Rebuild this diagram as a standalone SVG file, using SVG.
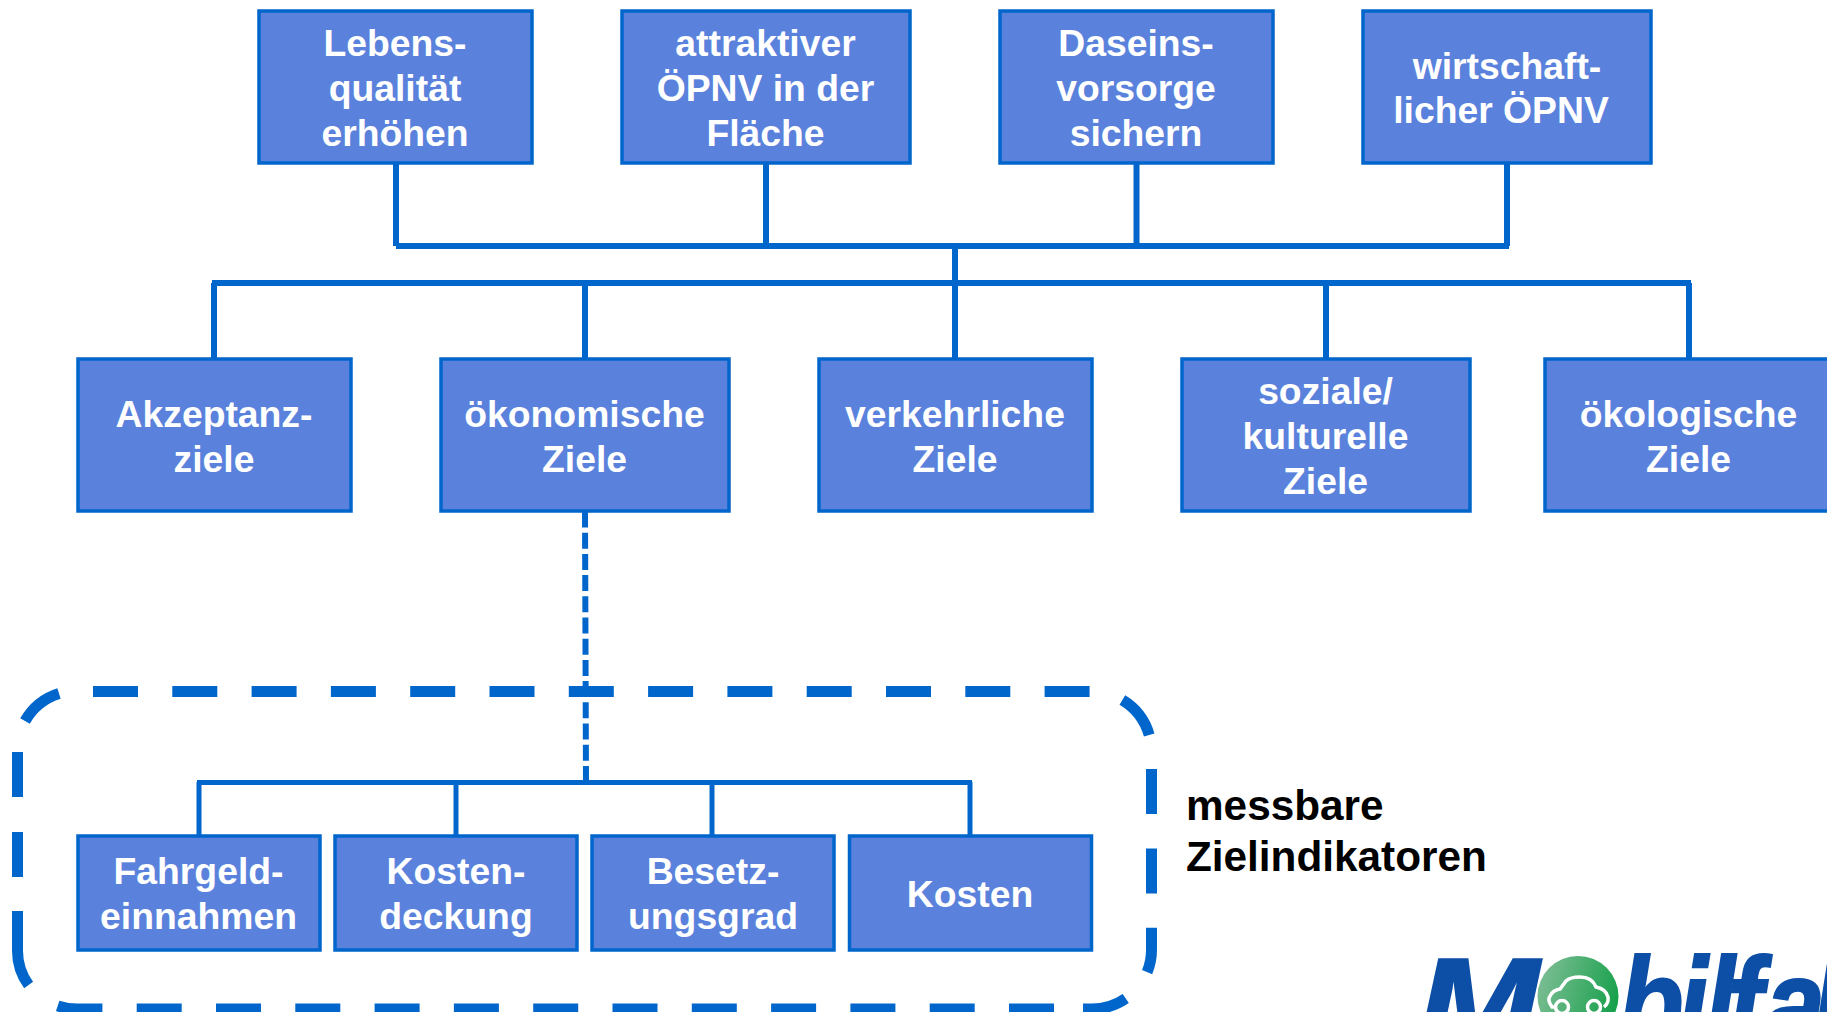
<svg xmlns="http://www.w3.org/2000/svg" width="1827" height="1012" viewBox="0 0 1827 1012">
<defs>
<style>
.box{fill:#5a82dc;stroke:#0066cc;stroke-width:3.5}
.t{font-family:"Liberation Sans",Arial,sans-serif;font-weight:700;font-size:37.3px;fill:#fff;text-anchor:middle}
.l{font-family:"Liberation Sans",Arial,sans-serif;font-weight:700;font-size:42.3px;fill:#000}
.c{fill:none;stroke:#0066cc;stroke-width:6}
.c2{fill:none;stroke:#0066cc;stroke-width:5}
.d{fill:none;stroke:#0066cc;stroke-width:11}
.logo{font-family:"Liberation Sans",Arial,sans-serif;font-weight:700;font-style:italic;font-size:132px;fill:#0d4ea6;stroke:#0d4ea6;stroke-width:2}
</style>
<linearGradient id="g" x1="0" y1="0.3" x2="1" y2="0.6"><stop offset="0" stop-color="#7dbd94"/><stop offset="1" stop-color="#14a04a"/></linearGradient>
</defs>
<rect width="1827" height="1012" fill="#fff"/>
<g id="connectors">
<path class="c" d="M396 163V246M766 163V246M1136.500 163V246M1507 163V246M396 246H1509M955 246V359M212 283H1691M214 283V359M585 283V359M1326 283V359M1689 283V359"/>
<path class="c" stroke-dasharray="16 5.200" d="M585 511.500L586 782"/>
<path class="c2" d="M197 782.500H972M199 782V836M456 782V836M712 782V836M970 782V836"/>
<g id="bracket">
<path class="d" stroke-dasharray="45 34.300" d="M93 691.500H1091A60 60 0 0 1 1151.500 751V950A60 59 0 0 1 1091 1009H1083"/>
<path class="d" stroke-dasharray="45 34.300" d="M1054 1009H77A60 59 0 0 1 57.700 1005.900"/>
<path class="d" d="M17.500 911V950A60 59 0 0 0 28.600 985M17.500 832V877M17.500 752V797M25 721A60 60 0 0 1 59 693.500"/>
</g>
</g>
<g id="n1"><rect class="box" x="259" y="11" width="273" height="152"/><text class="t" x="395" y="56">Lebens-</text><text class="t" x="395" y="101">qualität</text><text class="t" x="395" y="146">erhöhen</text></g>
<g id="n2"><rect class="box" x="622" y="11" width="288" height="152"/><text class="t" x="765.500" y="56">attraktiver</text><text class="t" x="765.500" y="101">ÖPNV in der</text><text class="t" x="765.500" y="146">Fläche</text></g>
<g id="n3"><rect class="box" x="1000" y="11" width="273" height="152"/><text class="t" x="1136" y="56">Daseins-</text><text class="t" x="1136" y="101">vorsorge</text><text class="t" x="1136" y="146">sichern</text></g>
<g id="n4"><rect class="box" x="1363" y="11" width="288" height="152"/><text class="t" x="1507" y="79">wirtschaft-</text><text class="t" x="1501" y="123">licher ÖPNV</text></g>
<g id="n5"><rect class="box" x="78" y="359" width="273" height="152"/><text class="t" x="214" y="427">Akzeptanz-</text><text class="t" x="214" y="472">ziele</text></g>
<g id="n6"><rect class="box" x="441" y="359" width="288" height="152"/><text class="t" x="584.500" y="427">ökonomische</text><text class="t" x="584.500" y="472">Ziele</text></g>
<g id="n7"><rect class="box" x="819" y="359" width="273" height="152"/><text class="t" x="955" y="427">verkehrliche</text><text class="t" x="955" y="472">Ziele</text></g>
<g id="n8"><rect class="box" x="1182" y="359" width="288" height="152"/><text class="t" x="1325.500" y="404">soziale/</text><text class="t" x="1325.500" y="449">kulturelle</text><text class="t" x="1325.500" y="494">Ziele</text></g>
<g id="n9"><rect class="box" x="1545" y="359" width="288" height="152"/><text class="t" x="1688.500" y="427">ökologische</text><text class="t" x="1688.500" y="472">Ziele</text></g>
<g id="n10"><rect class="box" x="78" y="836" width="242" height="114"/><text class="t" x="198.500" y="884">Fahrgeld-</text><text class="t" x="198.500" y="929">einnahmen</text></g>
<g id="n11"><rect class="box" x="335" y="836" width="242" height="114"/><text class="t" x="456" y="884">Kosten-</text><text class="t" x="456" y="929">deckung</text></g>
<g id="n12"><rect class="box" x="592" y="836" width="242" height="114"/><text class="t" x="713" y="884">Besetz-</text><text class="t" x="713" y="929">ungsgrad</text></g>
<g id="n13"><rect class="box" x="849.500" y="836" width="242" height="114"/><text class="t" x="970" y="907">Kosten</text></g>
<g id="label"><text class="l" x="1186" y="820">messbare</text><text class="l" x="1186" y="871">Zielindikatoren</text></g>
<g id="logo">
<text class="logo" x="1417" y="1050" textLength="122" lengthAdjust="spacingAndGlyphs">M</text>
<circle cx="1578" cy="996.500" r="40.500" fill="url(#g)"/>
<path d="M1555 1007H1552Q1547 1000 1550 996Q1553 990 1560 989L1566 981Q1570 977 1580 977Q1592 977 1596 987Q1606 989 1608 997Q1609 1003 1604 1007" fill="none" stroke="#fff" stroke-width="3.500"/>
<circle cx="1562" cy="1007" r="6.500" fill="none" stroke="#fff" stroke-width="3.500"/>
<circle cx="1594" cy="1007" r="6.500" fill="none" stroke="#fff" stroke-width="3.500"/>
<text class="logo" transform="scale(0.82 1)" x="1973 2046 2079 2106 2152 2210" y="1050">bilfal</text>
</g>
</svg>
